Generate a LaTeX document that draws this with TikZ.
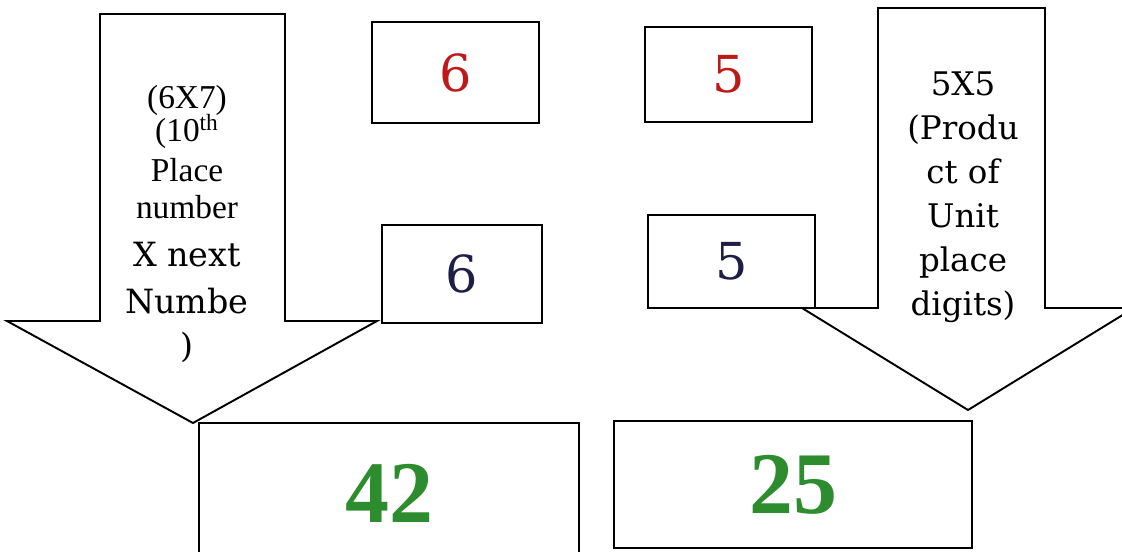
\documentclass[tikz,border=0pt]{standalone}
\usepackage{fontspec}
\setmainfont{Liberation Serif}
\newfontfamily\cambria{DejaVu Serif}
\usetikzlibrary{positioning}
\definecolor{digitred}{RGB}{190,25,25}
\definecolor{digitblue}{RGB}{30,30,70}
\definecolor{ansgreen}{RGB}{45,140,45}

\begin{document}
\begin{tikzpicture}[x=0.02cm, y=-0.02cm,
  line width=1.1pt,
  arr/.style={draw, fill=white, line join=miter},
  bx/.style={draw, fill=white, inner sep=0pt},
  dig/.style={font=\cambria\fontsize{29}{29}\selectfont},
  ans/.style={font=\bfseries\fontsize{50}{50}\selectfont, text=ansgreen},
  lbl/.style={anchor=north, align=center, inner sep=0pt}]
\clip (0,0) rectangle (1122,551);
\path[arr] (100,14) -- (285,14) -- (285,321) -- (377,321) -- (193,423) -- (7,321) -- (100,321) -- cycle;
\path[arr] (878,8) -- (1045,8) -- (1045,308) -- (1134,308) -- (968,410) -- (802,308) -- (878,308) -- cycle;
\node[lbl, font=\fontsize{19}{20}\selectfont] (tens) at (187,84)
  {(6X7)\\[-1pt](10\textsuperscript{th}\\[3pt]Place\\[1pt]number\\[7pt]{\cambria\fontsize{19}{20}\selectfont X next}\\[7pt]{\cambria\fontsize{19}{20}\selectfont Numbe}\\[5pt]{\cambria\fontsize{19}{20}\selectfont )}};
\node[lbl, font=\cambria\fontsize{18.5}{25}\selectfont] (units) at (963,71)
  {5X5\\(Produ\\ct of\\Unit\\place\\digits)};
\node[bx, dig, text=digitred, minimum width=3.34cm, minimum height=2.02cm] (topsix) at (455.5,72.5) {6};
\node[bx, dig, text=digitred, minimum width=3.34cm, minimum height=1.9cm] (topfive) at (728.5,74.5) {5};
\node[bx, dig, text=digitblue, minimum width=3.2cm, minimum height=1.96cm] (botsix) at (462,274) {6};
\node[bx, dig, text=digitblue, minimum width=3.34cm, minimum height=1.86cm] (botfive) at (731.5,261.5) {5};
\node[bx, ans, minimum width=7.6cm, minimum height=2.8cm] (tensans) at (389,493) {42};
\node[bx, ans, minimum width=7.16cm, minimum height=2.54cm] (unitsans) at (793,484.5) {25};
\end{tikzpicture}
\end{document}
